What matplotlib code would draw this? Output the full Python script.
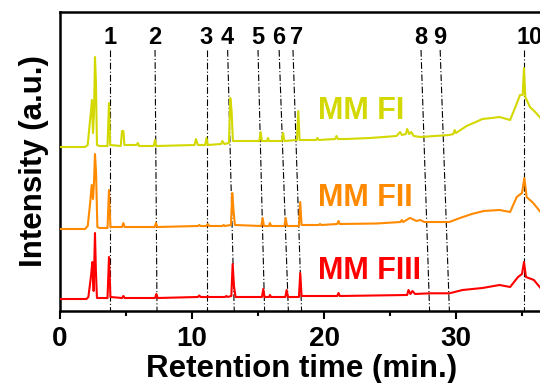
import matplotlib
matplotlib.use("Agg")
import matplotlib.pyplot as plt

plt.rcParams['font.family'] = ['Liberation Sans', 'DejaVu Sans']
plt.rcParams['font.weight'] = 'bold'

# retention time (min) / intensity
fi_t = [0, 1.9, 2.1, 2.27, 2.35, 2.42, 2.5, 2.58, 2.65, 2.72, 2.8, 3.0, 3.6, 3.71, 3.8, 4.6, 4.7, 4.8, 4.88,
        5.8, 5.9, 6.0, 7.1, 7.2, 7.3, 10.2, 10.3, 10.45, 11.0, 11.1, 11.2, 12.2, 12.3, 12.45, 12.8, 12.9, 13.0,
        13.1, 15.1, 15.2, 15.3, 15.7, 15.75, 15.85, 16.8, 16.9, 17.0, 17.95, 18.05, 18.15, 19.4, 19.5, 19.6,
        20.85, 20.95, 21.05, 21.7, 23.5, 25.5, 25.76, 25.9, 26.2, 26.3, 26.45, 26.6, 26.8, 27.3, 29.5, 29.8,
        29.9, 30.0, 30.8, 31.5, 32.0, 32.7, 33.3, 34.1, 34.5, 34.85, 35.05, 35.15, 35.25, 35.6, 36.0, 36.4,
        37.0, 38.0]
fi_y = [0, 0, 2, 26, 36, 47, 14, 36, 90, 66, 2, 1, 1, 44, 2, 1, 16, 16, 2,
        2, 4, 1, 1, 7, 1, 2, 8, 2, 2, 9, 2, 3, 6, 3, 4, 49, 36,
        6, 6, 15, 6, 6, 9, 6, 6, 14, 6, 7, 36, 7, 7, 9, 7,
        8, 11, 8, 8, 9, 11, 15, 12, 13, 18, 13, 15, 11, 10, 12, 13,
        17, 14, 21, 25, 28, 29, 30, 27, 40, 52, 52, 79, 50, 40, 35, 29,
        24, 20]

fii_t = [0, 1.9, 2.1, 2.3, 2.4, 2.5, 2.58, 2.65, 2.73, 2.83, 3.0, 3.6, 3.71, 3.82, 4.7, 4.8, 4.9, 7.17, 7.27,
         7.37, 10.45, 10.55, 10.65, 11.1, 11.2, 11.3, 12.3, 12.4, 12.5, 12.95, 13.05, 13.15, 13.25, 15.25,
         15.35, 15.45, 15.85, 15.9, 16.0, 17.0, 17.1, 17.2, 18.1, 18.2, 18.3, 19.6, 19.7, 19.8, 21.0, 21.1,
         21.2, 24.0, 25.8, 25.9, 26.0, 26.5, 26.7, 27.0, 27.3, 27.6, 29.5, 30.3, 31.2, 32.1, 33.3, 34.1, 34.6,
         35.0, 35.18, 35.35, 35.85, 36.4, 37.0, 38.0]
fii_y = [0, 0, 3, 28, 44, 30, 48, 75, 57, 2, 1, 1, 39, 2, 2, 6, 2, 2, 6,
         2, 3, 4, 3, 3, 5, 3, 3, 4, 3, 4, 36, 18, 4, 3,
         11, 3, 3, 6, 3, 3, 11, 3, 3, 27, 4, 4, 5, 4, 5, 8,
         5, 5.5, 7, 9, 7, 11, 10, 8, 9, 7, 7, 11, 15, 18, 19, 17, 32,
         36, 51, 32, 26, 17, 13, 10]

fiii_t = [0, 2.0, 2.15, 2.35, 2.45, 2.55, 2.65, 2.72, 2.8, 3.6, 3.71, 3.82, 4.7, 4.8, 4.9, 7.2, 7.3, 7.4,
          10.45, 10.55, 10.65, 11.1, 11.2, 11.3, 12.5, 12.6, 12.7, 12.98, 13.08, 13.18, 13.3, 15.3, 15.4,
          15.5, 15.85, 15.9, 16.0, 17.07, 17.17, 17.27, 18.1, 18.2, 18.3, 21.0, 21.1, 21.2, 26.3, 26.4,
          26.55, 26.7, 26.9, 28.0, 29.5, 30.5, 32.0, 33.3, 34.1, 34.7, 35.0, 35.15, 35.3, 35.9, 36.4, 37.0,
          38.0]
fiii_y = [0, 0, 2, 23, 37, 8, 66, 28, 1, 1, 42, 2, 1, 3, 1, 1, 5, 1,
          2, 3.5, 2, 2, 2.5, 2, 2, 3, 2, 3, 35, 13, 2, 2, 10,
          2, 2, 4, 2, 2, 9, 2, 2, 26, 3, 3, 6, 3, 4, 9,
          5, 8, 5, 5.7, 5.7, 9, 11, 14, 12, 22, 25, 37, 22, 19, 11, 8,
          6]

# marked peaks: position at top and bottom of each dash-dot guide
peak_names = ['1', '2', '3', '4', '5', '6', '7', '8', '9', '10']
peak_top = [3.8, 7.2, 11.1, 12.7, 15.0, 16.6, 17.65, 27.35, 28.8, 35.15]
peak_bottom = [3.8, 7.35, 11.1, 13.2, 15.5, 17.3, 18.3, 28.0, 29.5, 35.15]
label_x = [3.8, 7.2, 11.1, 12.7, 15.0, 16.6, 17.9, 27.3, 28.8, 35.6]

samples = ['MM FI', 'MM FII', 'MM FIII']
colors = ['#d3d900', '#ff8a00', '#ff0000']
offsets = [164, 82, 12]
traces = [(fi_t, fi_y), (fii_t, fii_y), (fiii_t, fiii_y)]
text_y = [200, 113, 40]

fig = plt.figure(figsize=(5.4, 3.83), dpi=100)
ax = fig.add_axes([60 / 540, 72 / 383, 528 / 540, 299 / 383])

for (t, y), off, c in zip(traces, offsets, colors):
    ax.plot(t, [v + off for v in y], color=c, lw=1.5, zorder=3)

for top, bot in zip(peak_top, peak_bottom):
    ax.plot([top, bot], [261, 0], color='black', lw=0.8, ls='-.', dashes=(6, 2, 1, 2), zorder=2)

for name, x in zip(peak_names, label_x):
    ax.text(x, 274, name, ha='center', va='center', fontsize=17, fontweight='bold')

for name, c, ty in zip(samples, colors, text_y):
    ax.text(19.55, ty, name, ha='left', va='center', fontsize=22, fontweight='bold', color=c)

ax.set_xlim(0, 40)
ax.set_ylim(0, 299)
ax.set_xticks([0, 10, 20, 30])
ax.set_xticks([5, 15, 25, 35], minor=True)
ax.set_yticks([])
ax.tick_params(axis='x', which='major', length=6, width=1.5, labelsize=20, pad=5)
ax.tick_params(axis='x', which='minor', length=3.5, width=1.5)
for s in ax.spines.values():
    s.set_linewidth(1.8)

ax.set_xlabel('Retention time (min.)', fontsize=22.5, fontweight='bold')
ax.xaxis.set_label_coords(242 / 528, -0.145)
ax.set_ylabel('Intensity (a.u.)', fontsize=22.5, fontweight='bold', labelpad=8)

fig.savefig('out.png', dpi=100)
